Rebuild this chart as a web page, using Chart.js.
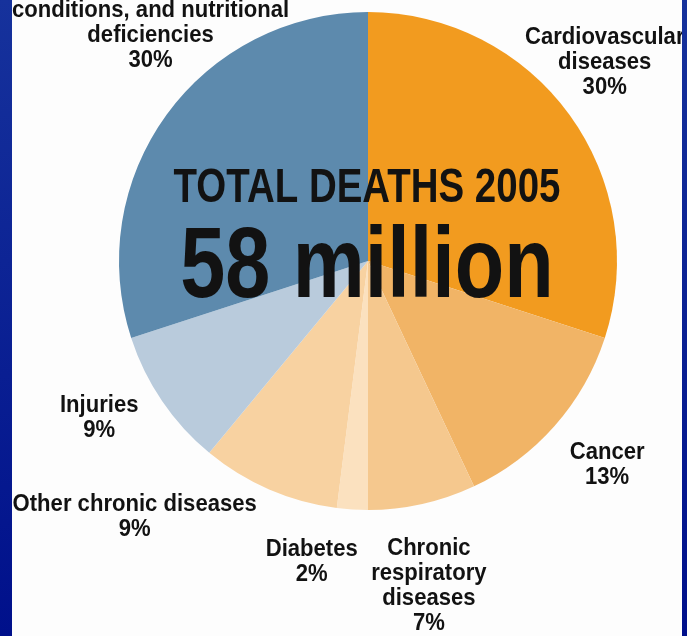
<!DOCTYPE html>
<html>
<head>
<meta charset="utf-8">
<title>Total deaths 2005</title>
<script src="https://cdn.jsdelivr.net/npm/chart.js@4.4.1/dist/chart.umd.min.js"></script>
<style>
  html, body {
    margin: 0;
    padding: 0;
    width: 687px;
    height: 636px;
    overflow: hidden;
    background: linear-gradient(#16329c, #00108b);
  }
  #page {
    position: absolute;
    left: 12px;
    top: 0;
    width: 670px;
    height: 636px;
    background: #fdfdfd;
    overflow: hidden;
  }
  #wrap {
    position: absolute;
    left: -12px;
    top: 0;
    width: 687px;
    height: 636px;
  }
</style>
</head>
<body>
<div id="page">
  <div id="wrap">
    <canvas id="deathsChart"></canvas>
  </div>
</div>

<script>
/* =========================================================
   DATA
========================================================= */

const causes = [
  "Cardiovascular diseases",
  "Cancer",
  "Chronic respiratory diseases",
  "Diabetes",
  "Other chronic diseases",
  "Injuries",
  "Communicable diseases, maternal and perinatal conditions, and nutritional deficiencies"
];

// label lines as printed next to each slice (top of the last one is cut off)
const labelLines = [
  ["Cardiovascular", "diseases"],
  ["Cancer"],
  ["Chronic", "respiratory", "diseases"],
  ["Diabetes"],
  ["Other chronic diseases"],
  ["Injuries"],
  ["conditions, and nutritional", "deficiencies"]
];

const shares = [30, 13, 7, 2, 9, 9, 30];

const sliceColors = [
  "#f29b1f",
  "#f1b466",
  "#f5c88e",
  "#fbe1bf",
  "#f8d2a1",
  "#b9cbdc",
  "#5d8aad"
];

const titleText = "TOTAL DEATHS 2005";
const totalText = "58 million";

/* =========================================================
   TEXT HELPERS
========================================================= */

const FONT = '"Liberation Sans", Arial, sans-serif';

function condensedText(ctx, text, x, y, size, squeeze){
  ctx.save();
  ctx.translate(x, y);
  ctx.scale(squeeze, 1);
  ctx.font = "bold " + size + "px " + FONT;
  ctx.fillText(text, 0, 0);
  ctx.restore();
}

// [angle nudge in degrees, distance beyond the rim]
const labelNudge = [
  [-4, 60],
  [-1, 65],
  [2, 82],
  [7, 57],
  [19, 97],
  [4, 62],
  [10, 64]
];

/* =========================================================
   PLUGIN : centre title + outside labels
========================================================= */

const piePrint = {
  id: "piePrint",
  afterDatasetsDraw(chart){

    const ctx = chart.ctx;
    const arcs = chart.getDatasetMeta(0).data;

    ctx.save();
    ctx.fillStyle = "#121212";
    ctx.textAlign = "center";

    /* centre */
    const cx = arcs[0].x;
    const cy = arcs[0].y;

    ctx.textBaseline = "alphabetic";
    condensedText(ctx, titleText, cx - 1, cy - 59, 49, 0.785);
    condensedText(ctx, totalText, cx - 1, cy + 36, 100, 0.81);

    /* labels */
    ctx.textBaseline = "middle";

    arcs.forEach((arc, i) => {

      const mid =
        (arc.startAngle + arc.endAngle) / 2 +
        labelNudge[i][0] * Math.PI / 180;

      const dist = arc.outerRadius + labelNudge[i][1];

      const lx = arc.x + Math.cos(mid) * dist;
      const ly = arc.y + Math.sin(mid) * dist;

      const lines = labelLines[i].concat([shares[i] + "%"]);
      const step = 25;
      const top = ly - (lines.length - 1) * step / 2;

      lines.forEach((line, k) => {
        condensedText(ctx, line, lx, top + k * step, 24, 0.92);
      });

    });

    ctx.restore();
  }
};

/* =========================================================
   CHART
========================================================= */

const ctx =
  document
    .getElementById("deathsChart")
    .getContext("2d");

new Chart(ctx, {

  type: "pie",

  data: {
    labels: causes,
    datasets: [{
      data: shares,
      backgroundColor: sliceColors,
      borderWidth: 0
    }]
  },

  options: {
    responsive: true,
    maintainAspectRatio: false,
    animation: false,
    layout: {
      padding: {
        left: 119,
        right: 70,
        top: 12,
        bottom: 126
      }
    },
    plugins: {
      legend: { display: false },
      tooltip: { enabled: false }
    }
  },

  plugins: [piePrint]

});
</script>
</body>
</html>
